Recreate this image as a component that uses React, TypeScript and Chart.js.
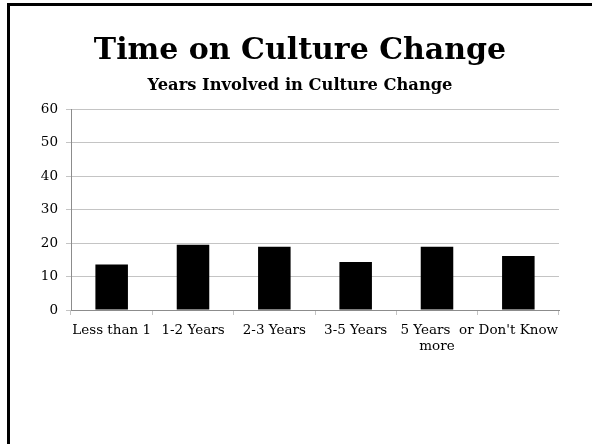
import React, { useEffect, useRef } from "react";
import { Chart, registerables } from "chart.js";

Chart.register(...registerables);

const titleText = "Time on Culture Change";
const subtitleText = "Years Involved in Culture Change";
const categories: (string | string[])[] = [
  "Less than 1",
  "1-2 Years",
  "2-3 Years",
  "3-5 Years",
  ["5 Years  or", "more"],
  "Don't Know",
];
const values = [13.6, 19.5, 18.9, 14.4, 18.9, 16.2];
const yMin = 0;
const yMax = 60;
const yStep = 10;

const FONT = "'DejaVu Serif', serif";

export default function App() {
  const ref = useRef<HTMLCanvasElement | null>(null);
  useEffect(() => {
    document.body.style.margin = "0";
    const ctx = ref.current!;
    const chart = new Chart(ctx, {
      type: "bar",
      data: {
        labels: categories,
        datasets: [
          {
            data: values,
            backgroundColor: "#000000",
            borderWidth: 0,
            barPercentage: 0.4,
            categoryPercentage: 1,
          },
        ],
      },
      options: {
        animation: false,
        responsive: false,
        maintainAspectRatio: false,
        layout: { padding: { left: 41, right: 33, top: 0, bottom: 84 } },
        plugins: {
          legend: { display: false },
          tooltip: { enabled: false },
          title: {
            display: true,
            text: titleText,
            color: "#000",
            font: { family: FONT, size: 30, weight: "bold" },
            padding: { top: 33, bottom: 7 },
          },
          subtitle: {
            display: true,
            text: subtitleText,
            color: "#000",
            font: { family: FONT, size: 16.3, weight: "bold" },
            padding: { top: 0, bottom: 14 },
          },
        },
        scales: {
          x: {
            grid: {
              display: true,
              drawOnChartArea: false,
              drawTicks: true,
              tickLength: 5,
              offset: true,
              color: "#c4c4c4",
            },
            border: { display: true, color: "#8c8c8c", width: 1 },
            ticks: {
              color: "#000",
              font: { family: FONT, size: 13.5 },
              maxRotation: 0,
              autoSkip: false,
              padding: 7,
            },
            afterFit: (s: any) => {
              s.height = 50;
            },
          },
          y: {
            min: yMin,
            max: yMax,
            ticks: {
              stepSize: yStep,
              color: "#000",
              font: { family: FONT, size: 13.5 },
              padding: 8,
            },
            grid: { color: "#c4c4c4", tickLength: 5 },
            border: { display: true, color: "#8c8c8c", width: 1 },
            afterFit: (s: any) => {
              s.width = 30;
            },
          },
        },
      },
    });
    return () => chart.destroy();
  }, []);
  return (
    <div
      style={{
        position: "fixed",
        left: 0,
        top: 0,
        width: 592,
        height: 444,
        background: "#fff",
        overflow: "hidden",
      }}
    >
      <div
        style={{
          position: "absolute",
          left: 7,
          top: 3,
          width: 600,
          height: 460,
          borderLeft: "3px solid #000",
          borderTop: "3px solid #000",
        }}
      />
      <canvas
        ref={ref}
        width={592}
        height={444}
        style={{ position: "absolute", left: 0, top: 0, width: 592, height: 444 }}
      />
    </div>
  );
}
